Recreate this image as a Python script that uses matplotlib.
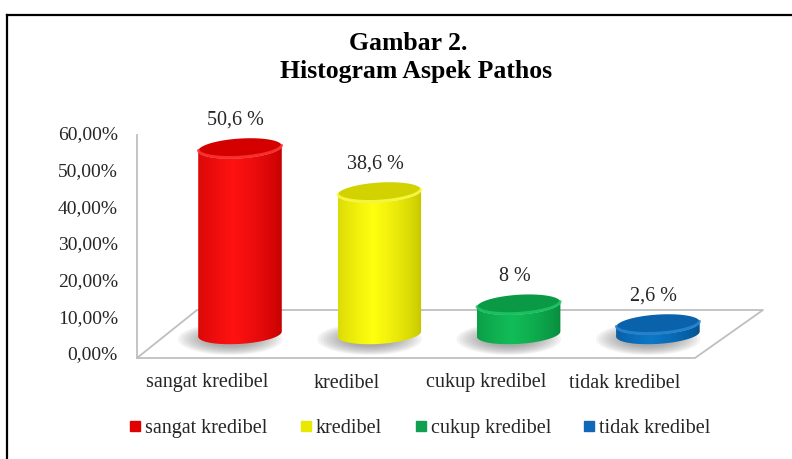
import numpy as np
import matplotlib
matplotlib.use("Agg")
import matplotlib.pyplot as plt
from matplotlib.patches import Polygon, Ellipse
from matplotlib.lines import Line2D
from matplotlib.colors import to_rgb

# ---------------- data ----------------
categories = ["sangat kredibel", "kredibel", "cukup kredibel", "tidak kredibel"]
values = [50.6, 38.6, 8.0, 2.6]
value_labels = ["50,6 %", "38,6 %", "8 %", "2,6 %"]
yticks = [0, 10, 20, 30, 40, 50, 60]
ytick_labels = ["0,00%", "10,00%", "20,00%", "30,00%", "40,00%", "50,00%", "60,00%"]
title_lines = ["Gambar 2.", "Histogram Aspek Pathos"]

# ---------------- styles ----------------
body_center = ["#ff1212", "#ffff10", "#12bd58", "#0c78c8"]
body_edge = ["#c40000", "#c4c400", "#078a3c", "#04508e"]
top_color = ["#d40000", "#d2d200", "#0a9a45", "#0a62aa"]
rim_color = ["#ff3a3a", "#ffff50", "#20c868", "#2a88d8"]
legend_colors = ["#e00000", "#e8e800", "#10a050", "#1068b8"]
SERIF = ["Liberation Serif", "DejaVu Serif"]
TXT = "#262626"

W, H = 7.92, 4.59
fig = plt.figure(figsize=(W, H), dpi=100)
ax = fig.add_axes([0, 0, 1, 1])
# pixel mapping: x_px = 240 + 139.3*x ; y_px(from top) = 355 - 3.667*y
XS, X0 = 139.3, 240.0
YS, Y0 = 3.667, 355.0
ax.axis("off")

def px2x(p):
    return (p - X0) / XS

def py2y(p):
    return (Y0 - p) / YS

# floor & axis
front_y = py2y(358)
back_y = py2y(310)
fl = px2x(137); fr = px2x(695); bl = px2x(197); br = px2x(763)
floor_col = "#bfbfbf"
ax.plot([fl, fr, br, bl, fl], [front_y, front_y, back_y, back_y, front_y],
        color=floor_col, lw=1.3, zorder=1)
ax.plot([fl, fl], [front_y, py2y(135)], color=floor_col, lw=1.3, zorder=1)

# y tick labels
for v, lab in zip(yticks, ytick_labels):
    ax.text(px2x(118), v, lab, ha="right", va="center", fontsize=14,
            family=SERIF, color=TXT)

base = (front_y + back_y) / 2.0
half_w = 0.30
eb = 2.7       # ellipse half-height (data units)
skew = 0.7     # right side higher

def ell_pts(cx, cy, t):
    return np.column_stack([cx + half_w * np.cos(t),
                            cy + eb * np.sin(t) + skew * np.cos(t)])

for i, (cat, v) in enumerate(zip(categories, values)):
    cx = i
    top = base + v
    # shadow
    for k in range(10):
        f = 1.0 - k * 0.06
        ax.add_patch(Ellipse((cx - 0.07, base - 1.4), 2 * half_w * 1.25 * f,
                             2 * eb * 1.6 * f, facecolor="#707070",
                             edgecolor="none", alpha=0.08, zorder=2))
    # body
    t_low = np.linspace(np.pi, 2 * np.pi, 120)
    t_up = np.linspace(2 * np.pi, np.pi, 120)
    pts = np.vstack([ell_pts(cx, base, t_low), ell_pts(cx, top, t_up)])
    body = Polygon(pts, closed=True, facecolor="none", edgecolor="none", zorder=3)
    ax.add_patch(body)
    u = np.linspace(0, 1, 200)
    w = np.clip(1 - np.abs(u - 0.42) / 0.58, 0, 1) ** 0.7
    c0 = np.array(to_rgb(body_edge[i])); c1 = np.array(to_rgb(body_center[i]))
    grad = (c0[None, :] * (1 - w[:, None]) + c1[None, :] * w[:, None])[None, :, :]
    im = ax.imshow(grad, extent=[cx - half_w, cx + half_w, base - eb - skew, top + eb + skew],
                   aspect="auto", interpolation="bilinear", zorder=3, origin="lower")
    im.set_clip_path(body)
    # top ellipse
    t_all = np.linspace(0, 2 * np.pi, 240)
    ax.add_patch(Polygon(ell_pts(cx, top, t_all), closed=True,
                         facecolor=top_color[i], edgecolor="none", zorder=4))
    rim = ell_pts(cx, top, np.linspace(np.pi * 1.02, np.pi * 1.98, 100))
    ax.plot(rim[:, 0], rim[:, 1] + 0.35, color=rim_color[i], lw=2.0, alpha=0.8,
            zorder=5, solid_capstyle="round")
    # value label
    ax.text(cx - 0.03, top + 7.8, value_labels[i], ha="center", va="center",
            fontsize=14.5, family=SERIF, color=TXT, zorder=6)
    # category label
    ax.text(cx - 0.235, py2y(383), cat, ha="center", va="center", fontsize=14.5,
            family=SERIF, color=TXT)

ax.set_xlim(-X0 / XS, (792 - X0) / XS)
ax.set_ylim((Y0 - 459) / YS, Y0 / YS)

# title
fig.text(408 / 792, 1 - 50 / 459, title_lines[0], ha="center", va="baseline",
         fontsize=18.5, fontweight="bold", family=SERIF)
fig.text(416 / 792, 1 - 78 / 459, title_lines[1], ha="center", va="baseline",
         fontsize=18.5, fontweight="bold", family=SERIF)

# legend
handles = [Line2D([0], [0], marker="s", linestyle="none", markersize=7.5,
                  markerfacecolor=c, markeredgecolor=c) for c in legend_colors]
fig.legend(handles, categories, loc="center", bbox_to_anchor=(419 / 792, 1 - 428 / 459),
           ncol=4, frameon=False, handletextpad=0.1, columnspacing=1.5,
           handlelength=0.8, prop={"family": SERIF, "size": 14.5}, labelcolor=TXT)

# frame
fig.add_artist(Line2D([7 / 792, 7 / 792], [0, 1 - 15 / 459], color="black", lw=1.6,
                      transform=fig.transFigure))
fig.add_artist(Line2D([7 / 792, 1], [1 - 15 / 459, 1 - 15 / 459], color="black", lw=1.6,
                      transform=fig.transFigure))

fig.savefig("out.png", dpi=100)
